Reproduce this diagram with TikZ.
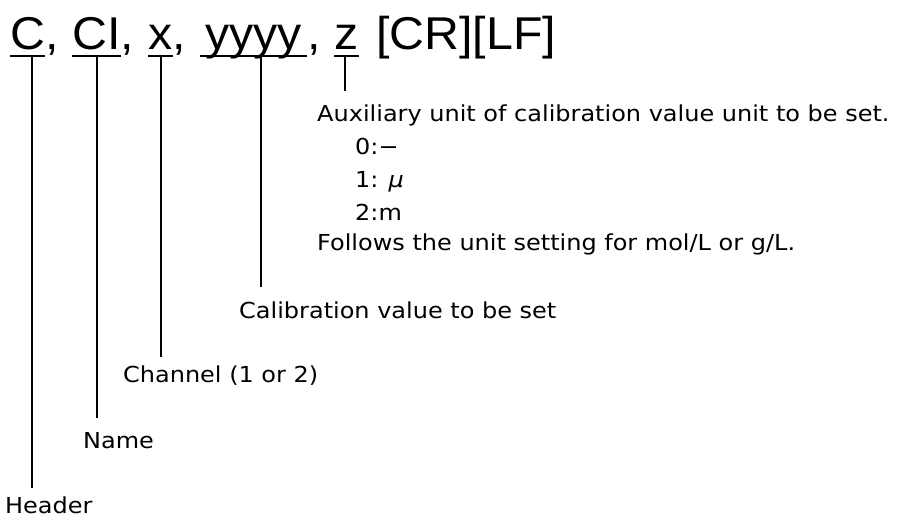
\documentclass[tikz,border=0pt]{standalone}
\usepackage{fontspec}
\setmainfont{DejaVu Sans}[FakeStretch=1.09]
\newfontfamily\cmdfont{Liberation Sans}[FakeStretch=1.05]
\usetikzlibrary{positioning}
\tikzstyle{cmd} = [font=\cmdfont\fontsize{46}{46}\selectfont, inner sep=0pt, anchor=base west]
\tikzstyle{note} = [font=\fontsize{22}{22}\selectfont, inner sep=0pt, anchor=base west]
\tikzstyle{underline} = [line width=2.5pt]
\tikzstyle{connector} = [line width=1.7pt]

\begin{document}
\begin{tikzpicture}[x=1pt, y=-1pt]
                \useasboundingbox (0,0) rectangle (898,519);

                % command string
                \node (C) [cmd] at (10,50) {C};
                \node (c1) [cmd] at (C.base east) {,};
                \node (CI) [cmd] at (72,50) {CI};
                \node (c2) [cmd] at (CI.base east) {,};
                \node (x) [cmd] at (148,50) {x};
                \node (c3) [cmd] at (x.base east) {,};
                \node (yyyy) [cmd, minimum width=107pt] at (200,50) {yyyy};
                \node (c4) [cmd] at (yyyy.base east) {,};
                \node (z) [cmd] at (334,50) {z};
                \node (crlf) [cmd] at (376,50) {[CR][LF]};

                \foreach \t in {C,CI,x,yyyy,z}
                    \draw [underline] ([yshift=-6pt]\t.base west) -- ([yshift=-6pt]\t.base east);

                % labels
                \node (aux) [note] at (317,121.7) {Auxiliary unit of calibration value unit to be set.};
                \node (u0) [note] at (355,154) {0:−};
                \node (u1) [note] at (355,187) {1: {\itshape μ}};
                \node (u2) [note] at (355,220.7) {2:m};
                \node (follow) [note] at (317,250.7) {Follows the unit setting for mol/L or g/L.};
                \node (calib) [note] at (239,318) {Calibration value to be set};
                \node (chan) [note] at (123,382) {Channel (1 or 2)};
                \node (name) [note] at (83,448) {Name};
                \node (header) [note] at (5,513) {Header};

                \coordinate (tC) at (32,56);
                \coordinate (tCI) at (97,56);
                \coordinate (tx) at (161,56);
                \coordinate (ty) at (261,56);
                \coordinate (tz) at (345,56);

                \draw [connector, shorten >=14pt] (tz) -- (tz |- aux.north);
                \draw [connector, shorten >=14pt] (ty) -- (ty |- calib.north);
                \draw [connector, shorten >=8pt] (tx) -- (tx |- chan.north);
                \draw [connector, shorten >=14pt] (tCI) -- (tCI |- name.north);
                \draw [connector, shorten >=8pt] (tC) -- (tC |- header.north);
            \end{tikzpicture}
\end{document}
